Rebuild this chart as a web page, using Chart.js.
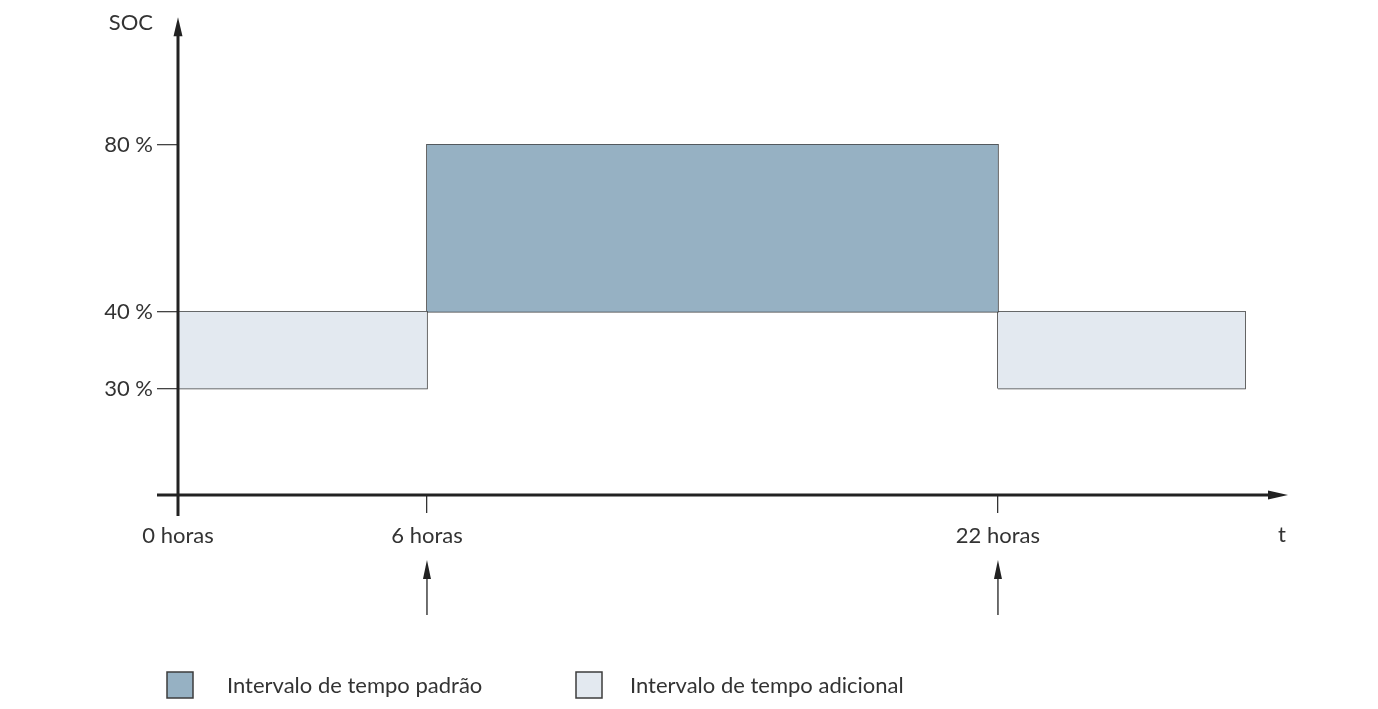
<!DOCTYPE html>
<html>
<head>
<meta charset="utf-8">
<script src="https://cdn.jsdelivr.net/npm/chart.js@4.4.1/dist/chart.umd.min.js"></script>
<style>
  html, body { margin: 0; padding: 0; background: #fff; }
  #wrap { width: 1378px; height: 709px; position: relative; }
</style>
</head>
<body>
<div id="wrap"><canvas id="socChart"></canvas></div>
<script>
// === Data ===
const timeTicks = [0, 6, 22];
const timeLabels = ['0 horas', '6 horas', '22 horas'];
const socTicks = [30, 40, 80];
const socLabels = ['30 %', '40 %', '80 %'];
const intervalNames = ['Intervalo de tempo padrão', 'Intervalo de tempo adicional'];
const intervalStart = [0, 6, 22];
const intervalEnd = [6, 22, 28];
const intervalLow = [30, 40, 30];
const intervalHigh = [40, 80, 40];
const intervalKind = [1, 0, 1];   // index into intervalNames
const arrowTimes = [6, 22];

const kindColors = ['#96b1c3', '#e3e9f0'];
const lineColor = '#3c3c3c';
const textColor = '#333333';
const FONT = 'Lato, "Open Sans", sans-serif';
const FONT_SIZE = 22;

// The drawing is schematic: both axes are piecewise, not linear.
// Knots are [value, fraction of axis length].
const knotsByAxis = {
    x: [[0, 0], [6, 0.2243], [22, 0.7387], [28, 0.9613], [29, 1]],
    y: [[0, 0], [30, 0.2229], [40, 0.3833], [80, 0.7333], [100, 1]]
};

class PiecewiseScale extends Chart.LinearScale {
    getPixelForValue(value) {
        const k = knotsByAxis[this.id];
        let d;
        if (value <= k[0][0]) d = k[0][1];
        else if (value >= k[k.length - 1][0]) d = k[k.length - 1][1];
        else {
            for (let i = 1; i < k.length; i++) {
                if (value <= k[i][0]) {
                    const [v0, d0] = k[i - 1], [v1, d1] = k[i];
                    d = d0 + (value - v0) / (v1 - v0) * (d1 - d0);
                    break;
                }
            }
        }
        return this.getPixelForDecimal(d);
    }
    getValueForPixel(pixel) {
        const k = knotsByAxis[this.id];
        const d = this.getDecimalForPixel(pixel);
        for (let i = 1; i < k.length; i++) {
            if (d <= k[i][1]) {
                const [v0, d0] = k[i - 1], [v1, d1] = k[i];
                return v0 + (d - d0) / (d1 - d0) * (v1 - v0);
            }
        }
        return k[k.length - 1][0];
    }
}
PiecewiseScale.id = 'piecewise';
PiecewiseScale.defaults = Chart.LinearScale.defaults;
Chart.register(PiecewiseScale);

// === Datasets: one fill + one outline per interval ===
const datasets = [];
intervalStart.forEach((s, i) => {
    const e = intervalEnd[i], lo = intervalLow[i], hi = intervalHigh[i];
    datasets.push({
        label: intervalNames[intervalKind[i]],
        data: [{ x: s, y: hi }, { x: e, y: hi }],
        backgroundColor: kindColors[intervalKind[i]],
        borderWidth: 0,
        pointRadius: 0,
        fill: { value: lo }
    });
    datasets.push({
        label: 'outline',
        data: [{ x: s, y: lo }, { x: s, y: hi }, { x: e, y: hi }, { x: e, y: lo }, { x: s, y: lo }],
        borderColor: lineColor,
        borderWidth: 1.5,
        pointRadius: 0,
        fill: false,
        tension: 0
    });
});

function arrowHead(ctx, x, y, dir, len, half) {
    ctx.beginPath();
    if (dir === 'up') {
        ctx.moveTo(x, y); ctx.lineTo(x - half, y + len); ctx.lineTo(x + half, y + len);
    } else {
        ctx.moveTo(x, y); ctx.lineTo(x - len, y - half); ctx.lineTo(x - len, y + half);
    }
    ctx.closePath();
    ctx.fill();
}

// === Axes with arrows, marker arrows, legend ===
const decorations = {
    id: 'decorations',
    afterDraw(chart) {
        const { ctx, chartArea, scales: { x, y } } = chart;
        const x0 = x.getPixelForValue(0);
        const y0 = y.getPixelForValue(0);
        ctx.save();
        ctx.fillStyle = '#222';
        ctx.strokeStyle = '#222';
        ctx.lineWidth = 3;
        // y axis
        ctx.beginPath();
        ctx.moveTo(x0, y0 + 21);
        ctx.lineTo(x0, chartArea.top + 16);
        ctx.stroke();
        arrowHead(ctx, x0, chartArea.top, 'up', 19, 4.5);
        // x axis
        ctx.beginPath();
        ctx.moveTo(x0 - 21, y0);
        ctx.lineTo(chartArea.right - 17, y0);
        ctx.stroke();
        arrowHead(ctx, chartArea.right, y0, 'right', 20, 4.5);

        // marker arrows under 6 h and 22 h
        ctx.lineWidth = 1.3;
        arrowTimes.forEach(t => {
            const px = x.getPixelForValue(t);
            ctx.beginPath();
            ctx.moveTo(px, 615);
            ctx.lineTo(px, 575);
            ctx.stroke();
            arrowHead(ctx, px, 560, 'up', 19, 4);
        });

        // axis titles
        ctx.fillStyle = textColor;
        ctx.font = FONT_SIZE + 'px ' + FONT;
        ctx.textBaseline = 'middle';
        ctx.textAlign = 'right';
        ctx.fillText('SOC', 153, 23);
        ctx.textAlign = 'center';
        ctx.fillText('t', 1282, 535);

        // legend
        const boxX = [167, 576];
        const textX = [227, 630];
        intervalNames.forEach((name, i) => {
            ctx.fillStyle = kindColors[i];
            ctx.fillRect(boxX[i], 672, 26, 26);
            ctx.strokeStyle = lineColor;
            ctx.lineWidth = 1.5;
            ctx.strokeRect(boxX[i], 672, 26, 26);
            ctx.fillStyle = textColor;
            ctx.textAlign = 'left';
            ctx.fillText(name, textX[i], 686);
        });
        ctx.restore();
    }
};

new Chart(document.getElementById('socChart'), {
    type: 'line',
    data: { datasets },
    options: {
        responsive: true,
        maintainAspectRatio: false,
        animation: false,
        layout: { padding: { left: 0, right: 90, top: 15, bottom: 0 } },
        plugins: {
            legend: { display: false },
            tooltip: { enabled: false },
            filler: { propagate: false }
        },
        scales: {
            x: {
                type: 'piecewise',
                min: 0,
                max: 29,
                border: { display: false },
                grid: { drawOnChartArea: false, drawTicks: true, tickLength: 18, color: '#333', lineWidth: 1.3 },
                afterBuildTicks: scale => { scale.ticks = timeTicks.map(v => ({ value: v })); },
                afterFit: scale => { scale.height = 214; },
                ticks: {
                    autoSkip: false,
                    maxRotation: 0,
                    padding: 10,
                    color: textColor,
                    font: { family: FONT, size: FONT_SIZE },
                    callback: v => timeLabels[timeTicks.indexOf(v)]
                }
            },
            y: {
                type: 'piecewise',
                min: 0,
                max: 100,
                border: { display: false },
                grid: { drawOnChartArea: false, drawTicks: true, tickLength: 21, color: '#444', lineWidth: 1.3 },
                afterBuildTicks: scale => { scale.ticks = socTicks.map(v => ({ value: v })); },
                afterFit: scale => { scale.width = 178; },
                ticks: {
                    autoSkip: false,
                    padding: 4,
                    color: textColor,
                    font: { family: FONT, size: FONT_SIZE },
                    callback: v => socLabels[socTicks.indexOf(v)]
                }
            }
        }
    },
    plugins: [decorations]
});
</script>
</body>
</html>
